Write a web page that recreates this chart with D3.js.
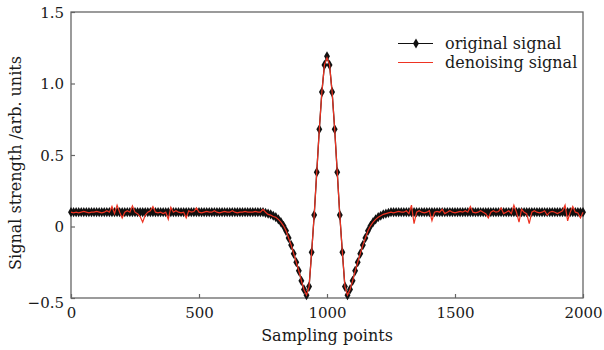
<!doctype html>
<html>
<head>
    <meta charset="utf-8">
    <style>
        body { margin: 0; background: #fff; }
        text { font-family: "DejaVu Serif", serif; fill: #1a1a1a; }
    </style>
    <script src="https://d3js.org/d3.v7.min.js"></script>
</head>
<body>
<svg width="604" height="350"></svg>
<script>

    // sampling step between listed values
    var step = 10;

    var xTicks = [0, 500, 1000, 1500, 2000];
    var yTicks = [-0.5, 0, 0.5, 1.0, 1.5];
    var seriesNames = ["original signal", "denoising signal"];

    // original signal, one value every 10 sampling points (0..2000)
    var original = [
        0.10, 0.10, 0.10, 0.10, 0.10, 0.10, 0.10, 0.10, 0.10, 0.10,
        0.10, 0.10, 0.10, 0.10, 0.10, 0.10, 0.10, 0.10, 0.10, 0.10,
        0.10, 0.10, 0.10, 0.10, 0.10, 0.10, 0.10, 0.10, 0.10, 0.10,
        0.10, 0.10, 0.10, 0.10, 0.10, 0.10, 0.10, 0.10, 0.10, 0.10,
        0.10, 0.10, 0.10, 0.10, 0.10, 0.10, 0.10, 0.10, 0.10, 0.10,
        0.10, 0.10, 0.10, 0.10, 0.10, 0.10, 0.10, 0.10, 0.10, 0.10,
        0.10, 0.10, 0.10, 0.10, 0.10, 0.10, 0.10, 0.10, 0.10, 0.10,
        0.10, 0.10, 0.10, 0.10, 0.10, 0.10,
        0.095, 0.09, 0.085, 0.075, 0.065, 0.05, 0.03, 0.005, -0.03, -0.08,
        -0.13, -0.19, -0.25, -0.31, -0.38, -0.44, -0.48, -0.42, -0.18, 0.08,
        0.38, 0.68, 0.94, 1.13, 1.19, 1.13, 0.94, 0.68, 0.38, 0.08,
        -0.18, -0.42, -0.48, -0.44, -0.38, -0.31, -0.25, -0.19, -0.13, -0.08,
        -0.03, 0.005, 0.03, 0.05, 0.065, 0.075, 0.085, 0.09, 0.095,
        0.10, 0.10, 0.10, 0.10, 0.10, 0.10, 0.10, 0.10, 0.10, 0.10,
        0.10, 0.10, 0.10, 0.10, 0.10, 0.10, 0.10, 0.10, 0.10, 0.10,
        0.10, 0.10, 0.10, 0.10, 0.10, 0.10, 0.10, 0.10, 0.10, 0.10,
        0.10, 0.10, 0.10, 0.10, 0.10, 0.10, 0.10, 0.10, 0.10, 0.10,
        0.10, 0.10, 0.10, 0.10, 0.10, 0.10, 0.10, 0.10, 0.10, 0.10,
        0.10, 0.10, 0.10, 0.10, 0.10, 0.10, 0.10, 0.10, 0.10, 0.10,
        0.10, 0.10, 0.10, 0.10, 0.10, 0.10, 0.10, 0.10, 0.10, 0.10,
        0.10, 0.10, 0.10, 0.10, 0.10, 0.10
    ];

    // denoising signal, same sampling
    var denoised = [
        0.10, 0.095, 0.10, 0.095, 0.10, 0.105, 0.10, 0.095, 0.10, 0.10,
        0.105, 0.10, 0.095, 0.10, 0.11, 0.10, 0.14, 0.09, 0.15, 0.10,
        0.06, 0.10, 0.11, 0.10, 0.145, 0.10, 0.09, 0.07, 0.03, 0.08,
        0.10, 0.11, 0.14, 0.10, 0.095, 0.10, 0.09, 0.10, 0.05, 0.135,
        0.10, 0.11, 0.10, 0.095, 0.10, 0.06, 0.11, 0.10, 0.105, 0.13,
        0.10, 0.095, 0.10, 0.105, 0.10, 0.10, 0.11, 0.10, 0.095, 0.10,
        0.105, 0.10, 0.10, 0.11, 0.10, 0.095, 0.10, 0.10, 0.105, 0.10,
        0.10, 0.10, 0.105, 0.10, 0.10, 0.12,
        0.10, 0.085, 0.08, 0.07, 0.065, 0.05, 0.03, 0.005, -0.03, -0.08,
        -0.13, -0.19, -0.25, -0.31, -0.38, -0.44, -0.48, -0.42, -0.18, 0.08,
        0.38, 0.68, 0.94, 1.13, 1.18, 1.13, 0.94, 0.68, 0.38, 0.08,
        -0.18, -0.42, -0.48, -0.44, -0.38, -0.31, -0.25, -0.19, -0.13, -0.08,
        -0.03, 0.005, 0.03, 0.05, 0.065, 0.075, 0.085, 0.09, 0.095,
        0.10, 0.095, 0.10, 0.105, 0.10, 0.10, 0.11, 0.09, 0.15, 0.02,
        0.10, 0.11, 0.10, 0.095, 0.10, 0.11, 0.04, 0.10, 0.105, 0.10,
        0.12, 0.09, 0.10, 0.11, 0.10, 0.095, 0.10, 0.105, 0.10, 0.11,
        0.10, 0.14, 0.10, 0.095, 0.10, 0.11, 0.10, 0.09, 0.06, 0.10,
        0.11, 0.10, 0.105, 0.13, 0.09, 0.10, 0.11, 0.09, 0.15, 0.10,
        0.03, 0.12, 0.10, 0.09, 0.02, 0.10, 0.11, 0.10, 0.095, 0.10,
        0.11, 0.08, 0.10, 0.105, 0.10, 0.09, 0.10, 0.11, 0.15, 0.04,
        0.10, 0.14, 0.10, 0.095, 0.06, 0.10
    ];

    var svg = d3.select("svg"),
        margin = {top: 12, right: 21, bottom: 52, left: 71},
        width = +svg.attr("width") - margin.left - margin.right,
        height = +svg.attr("height") - margin.top - margin.bottom;

    var x = d3.scaleLinear().domain([0, 2000]).range([0, width]),
        y = d3.scaleLinear().domain([-0.5, 1.5]).range([height, 0]);

    var g = svg.append("g")
        .attr("transform", "translate(" + margin.left + "," + margin.top + ")");

    var frameColor = "#666";

    // x axis
    var xAxis = g.append("g")
        .attr("transform", "translate(0," + height + ")")
        .call(d3.axisBottom(x).tickValues(xTicks).tickSize(-4).tickPadding(9)
            .tickFormat(function(d) { return "" + d; }));
    xAxis.selectAll("text").attr("font-size", "15px").attr("dy", "0.71em");

    // y axis
    var yAxis = g.append("g")
        .call(d3.axisLeft(y).tickValues(yTicks).tickSize(-4).tickPadding(7)
            .tickFormat(function(d) { return d === 0 ? "0" : d3.format(".1f")(d).replace("-", "\u2212"); }));
    yAxis.selectAll("text").attr("font-size", "15px")
        .attr("dy", function(d) { return d === -0.5 ? "0.6em" : "0.35em"; });

    g.selectAll(".domain").remove();
    g.selectAll(".tick line").attr("stroke", frameColor).attr("stroke-width", 1.2);
    g.selectAll(".tick text").attr("font-family", "DejaVu Serif").attr("fill", "#1a1a1a");

    // frame
    g.append("rect")
        .attr("width", width)
        .attr("height", height)
        .attr("fill", "none")
        .attr("stroke", frameColor)
        .attr("stroke-width", 1.3);

    var lineOf = d3.line()
        .x(function(d, i) { return x(i * step); })
        .y(function(d) { return y(d); });

    var diamond = d3.symbol().type(d3.symbolDiamond).size(30);

    // original signal: black line with diamond markers
    g.append("path")
        .datum(original)
        .attr("fill", "none")
        .attr("stroke", "#111")
        .attr("stroke-width", 1.3)
        .attr("d", lineOf);

    g.selectAll(".mk")
        .data(original)
        .enter().append("path")
        .attr("class", "mk")
        .attr("transform", function(d, i) { return "translate(" + x(i * step) + "," + y(d) + ")"; })
        .attr("d", diamond)
        .attr("fill", "#111");

    // denoising signal: red line on top
    g.append("path")
        .datum(denoised)
        .attr("fill", "none")
        .attr("stroke", "#ee3322")
        .attr("stroke-width", 1.2)
        .attr("d", lineOf);

    // axis titles
    svg.append("text")
        .attr("x", margin.left + width / 2)
        .attr("y", 341)
        .attr("text-anchor", "middle")
        .attr("font-size", "16px")
        .text("Sampling points");

    svg.append("text")
        .attr("transform", "translate(21," + 163 + ") rotate(-90)")
        .attr("text-anchor", "middle")
        .attr("font-size", "16px")
        .text("Signal strength /arb. units");

    // legend
    var legend = svg.append("g");
    var legColors = ["#111", "#ee3322"];
    seriesNames.forEach(function(name, i) {
        var ly = 43.5 + i * 19;
        legend.append("line")
            .attr("x1", 398).attr("x2", 433)
            .attr("y1", ly).attr("y2", ly)
            .attr("stroke", legColors[i])
            .attr("stroke-width", 1.2);
        if (i === 0) {
            legend.append("path")
                .attr("transform", "translate(416," + ly + ")")
                .attr("d", diamond)
                .attr("fill", "#111");
        }
        legend.append("text")
            .attr("x", 445)
            .attr("y", ly + 5)
            .attr("font-size", "16px")
            .text(name);
    });

</script>
</body>
</html>
